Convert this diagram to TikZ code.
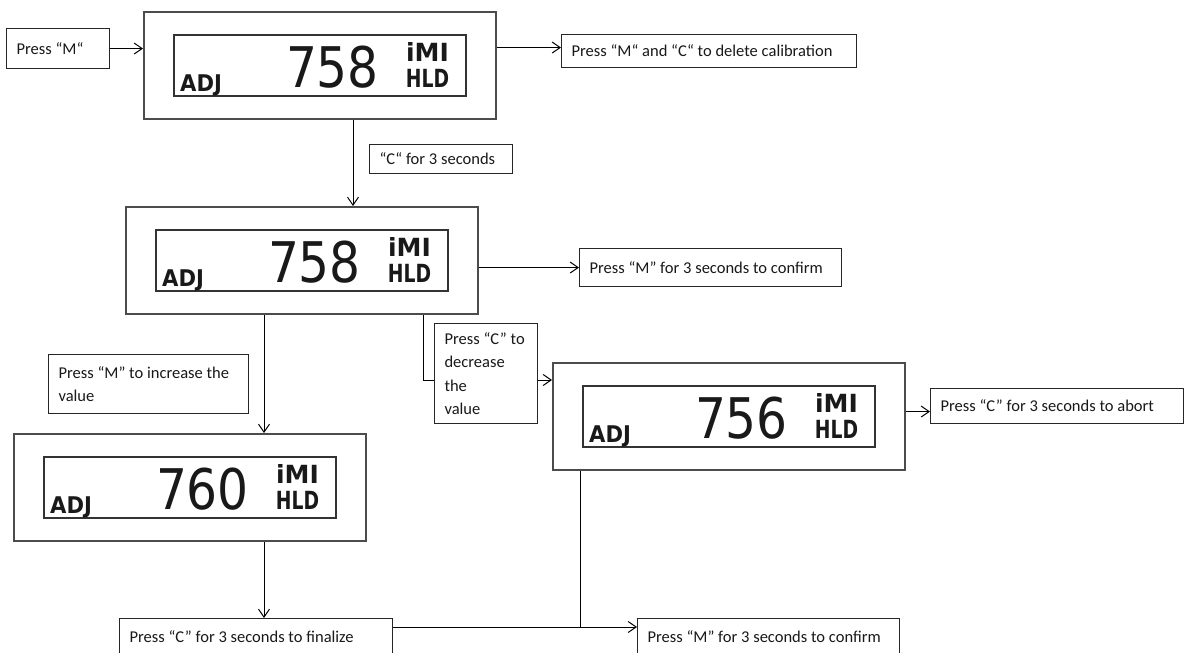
\documentclass[tikz,border=0pt]{standalone}
\usepackage{fontspec}
\usepackage{graphicx}
\setmainfont{Carlito}
\newfontfamily\lcdfont{DejaVu Sans}
\usetikzlibrary{arrows.meta}
\newcommand\lcdpanel[4]{%
  \begin{scope}[shift={(#2,#3)}]
    \node[lcdout] (#1) at (0,0) {};
    \node[lcdin] (#1in) at (30,23) {};
    \node[lcdadj] (#1adj) at (37,80) {\scalebox{0.92}[1]{ADJ}};
    \node[lcdnum] (#1num) at (189.5,76) {\scalebox{0.87}[1]{#4}};
    \node[lcdind] (#1ind) at (284.5,76) {\shortstack{iMI\\[4.5pt]\scalebox{0.75}[1]{HLD}}};
  \end{scope}}
\tikzset{
  tbox/.style={draw=black!85, line width=1.1pt, fill=white, anchor=north west,
    inner xsep=10pt, inner ysep=2pt, align=flush left,
    font=\fontsize{16.5}{23.5}\selectfont, text=black!90,
    execute at begin node={\spaceskip=0.23em\relax}},
  lcdout/.style={draw=black!70, line width=2pt, fill=white, anchor=north west,
    minimum width=352pt, minimum height=107pt, inner sep=0pt},
  lcdin/.style={draw=black!80, line width=2.4pt, anchor=north west,
    minimum width=292pt, minimum height=61pt, inner sep=0pt},
  lcdadj/.style={anchor=base west, inner sep=0pt, text height=17pt, text depth=0pt,
    font=\lcdfont\bfseries\fontsize{23}{23}\selectfont, text=black!90},
  lcdnum/.style={anchor=base, inner sep=0pt, text height=41pt, text depth=0pt,
    font=\lcdfont\fontsize{56}{56}\selectfont, text=black!90},
  lcdind/.style={anchor=base, inner sep=0pt,
    font=\lcdfont\bfseries\fontsize{25}{25}\selectfont, text=black!90},
  arr/.style={draw=black, line width=1pt, -{Straight Barb[length=8pt,width=11pt]}},
  ln/.style={draw=black, line width=1pt}
}
\begin{document}
\begin{tikzpicture}[x=1pt, y=-1pt]
\useasboundingbox (0,0) rectangle (1184,653);
\clip (0,0) rectangle (1184,653);
\fill[white] (0,0) rectangle (1184,653);

% text boxes
\node[tbox, text width=83pt, minimum height=40pt] (pm) at (6,28) {Press “M“};
\node[tbox, text width=275pt, minimum height=33pt] (del) at (561,34) {Press “M“ and “C“ to delete calibration};
\node[tbox, text width=123pt, minimum height=29pt] (c3) at (369,144) {“C“ for 3 seconds};
\node[tbox, text width=242pt, minimum height=38pt] (conf1) at (579,248) {Press “M” for 3 seconds to confirm};
\node[tbox, text width=180pt, minimum height=59pt] (inc) at (48,354) {Press “M” to increase the\\value};
\node[tbox, text width=233pt, minimum height=35pt] (abort) at (930,388) {Press “C” for 3 seconds to abort};
\node[tbox, text width=253pt, minimum height=36pt] (fin) at (119,618) {Press “C” for 3 seconds to finalize};
\node[tbox, text width=242pt, minimum height=36pt] (conf2) at (637,618) {Press “M” for 3 seconds to confirm};

% LCD panels
\lcdpanel{lcda}{143}{11}{758}
\lcdpanel{lcdb}{125}{206}{758}
\lcdpanel{lcdc}{13}{433}{760}
\lcdpanel{lcdd}{552}{362}{756}

% connectors
\draw[arr] (pm.east) -- (pm.east -| lcda.west);
\coordinate (dA) at ([yshift=3.5pt]del.west);
\draw[arr] (dA -| lcda.east) -- (dA);
\coordinate (v1) at ([xshift=210pt]lcda.south west);
\draw[arr] (v1) -- (v1 |- lcdb.north);
\draw[arr] (conf1.west -| lcdb.east) -- (conf1.west);
\coordinate (v2) at ([xshift=139pt]lcdb.south west);
\draw[arr] (v2) -- (v2 |- lcdc.north);
\coordinate (v3) at ([xshift=298pt]lcdb.south west);
\coordinate (h3) at ([yshift=-18pt]lcdd.north west);
\draw[arr] (v3) |- (h3);
\coordinate (aA) at ([yshift=-5.5pt]abort.west);
\draw[arr] (aA -| lcdd.east) -- (aA);
\coordinate (v4) at ([xshift=251pt]lcdc.south west);
\draw[arr] (v4) -- (v4 |- fin.north);
\coordinate (fA) at ([yshift=-9pt]fin.north east);
\draw[arr] (fA) -- (fA -| conf2.west);
\coordinate (v5) at ([xshift=28pt]lcdd.south west);
\draw[ln] (v5) -- (v5 |- fA);

% box drawn over the connector
\node[tbox, text width=83pt, minimum height=100pt] (dec) at (434,323) {Press “C” to\\decrease\\the\\value};
\end{tikzpicture}
\end{document}
